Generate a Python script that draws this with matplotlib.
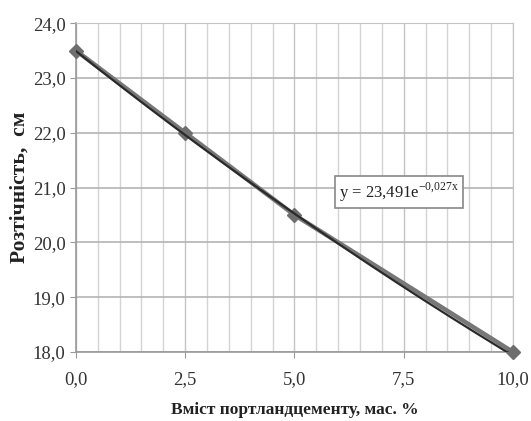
import numpy as np
import matplotlib
matplotlib.use("Agg")
import matplotlib.pyplot as plt
from matplotlib.ticker import MultipleLocator, FuncFormatter

plt.rcParams['font.family'] = ['Liberation Serif', 'DejaVu Serif']
plt.rcParams['mathtext.fontset'] = 'custom'
plt.rcParams['mathtext.rm'] = 'Liberation Serif'

# дані
cement = [0.0, 2.5, 5.0, 10.0]
spread = [23.5, 22.0, 20.5, 18.0]
trend_a = 23.491
trend_b = -0.027

fig = plt.figure(figsize=(5.31, 4.21), dpi=100)
ax = fig.add_axes([0.143, 0.164, 0.823, 0.781])

# лінія тренду
xt = np.linspace(0, 10, 200)
ax.plot(cement, spread, color='#777777', lw=3.2, marker='D', ms=7,
        mfc='#6e6e6e', mec='#6e6e6e', zorder=3, clip_on=False)
ax.plot(xt, trend_a * np.exp(trend_b * xt), color='#2a2a2a', lw=1.6, zorder=4)

ax.set_xlim(0, 10)
ax.set_ylim(18, 24)
ax.xaxis.set_major_locator(MultipleLocator(2.5))
ax.xaxis.set_minor_locator(MultipleLocator(0.5))
ax.yaxis.set_major_locator(MultipleLocator(1.0))
fmt = FuncFormatter(lambda v, p: f"{v:.1f}".replace('.', ','))
ax.xaxis.set_major_formatter(fmt)
ax.yaxis.set_major_formatter(fmt)

ax.grid(which='minor', axis='x', color='#d4d4d4', lw=1.0)
ax.grid(which='major', axis='x', color='#c4c4c4', lw=1.0)
ax.grid(which='major', axis='y', color='#b4b4b4', lw=1.2)
ax.set_axisbelow(True)

for s in ['top', 'right']:
    ax.spines[s].set_color('#c4c4c4')
for s in ['left', 'bottom']:
    ax.spines[s].set_color('#999999')
    ax.spines[s].set_linewidth(1.2)

ax.tick_params(axis='both', which='major', labelsize=13.5, colors='#999999',
               labelcolor='#333333', length=4)
ax.tick_params(axis='x', which='minor', length=0)
ax.tick_params(axis='x', pad=10)

ax.set_xlabel('Вміст портландцементу, мас. %', fontsize=12.5, fontweight='bold',
              color='#222222', labelpad=10)
ax.set_ylabel('Розтічність,  см', fontsize=15.5, fontweight='bold',
              color='#222222', va='center')
ax.yaxis.set_label_coords(-0.128, 0.5)

ax.text(7.4, 20.92, r'y = 23,491e$^{\mathregular{-0{,}027x}}$', fontsize=12,
        ha='center', va='center', color='#222222', zorder=5,
        bbox=dict(boxstyle='square,pad=0.25', fc='white', ec='#888888', lw=1.2))

fig.savefig('out.png', dpi=100)
